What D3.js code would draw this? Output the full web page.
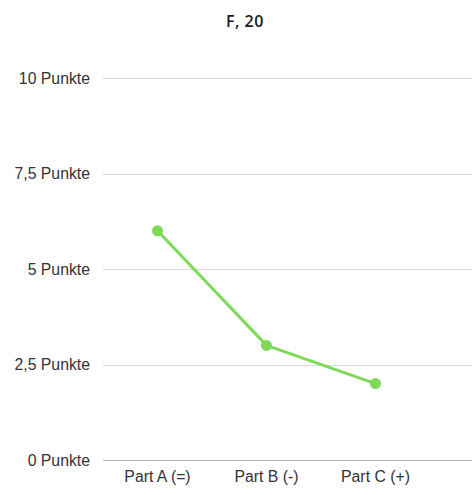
<!DOCTYPE html>
<html>
<head>
<meta charset="utf-8">
<script src="https://cdn.jsdelivr.net/npm/d3@7"></script>
<style>
  html, body { margin: 0; padding: 0; background: #fff; }
  svg { display: block; }
</style>
</head>
<body>
<svg id="chart" width="472" height="495"></svg>
<script>
const title = "F, 20";
const categories = ["Part A (=)", "Part B (-)", "Part C (+)"];
const values = [6, 3, 2];
const yTicks = [0, 2.5, 5, 7.5, 10];
const yTickLabels = ["0 Punkte", "2,5 Punkte", "5 Punkte", "7,5 Punkte", "10 Punkte"];

const svg = d3.select("#chart");
const W = 472;

const x = d3.scaleBand().domain(categories).range([103, 430]);
const y = d3.scaleLinear().domain([0, 10]).range([460, 78]);

// title
svg.append("text")
  .attr("x", 245).attr("y", 27)
  .attr("text-anchor", "middle")
  .attr("font-family", "'Open Sans', Lato, sans-serif")
  .attr("font-weight", 600)
  .attr("font-size", 16)
  .attr("letter-spacing", 0.5)
  .attr("fill", "#1a1a1a")
  .text(title);

// gridlines
svg.append("g").selectAll("line")
  .data(yTicks)
  .join("line")
  .attr("x1", 103).attr("x2", W)
  .attr("y1", d => Math.round(y(d)) + 0.5).attr("y2", d => Math.round(y(d)) + 0.5)
  .attr("stroke", d => d === 0 ? "#b3b3b3" : "#d9d9d9")
  .attr("stroke-width", 1);

// y labels
svg.append("g").selectAll("text")
  .data(yTicks)
  .join("text")
  .attr("x", 90)
  .attr("y", d => y(d))
  .attr("dy", "0.35em")
  .attr("text-anchor", "end")
  .attr("font-family", "'Liberation Sans', Arial, sans-serif")
  .attr("font-size", 15.8)
  .attr("fill", "#333")
  .text((d, i) => yTickLabels[i]);

// x labels
svg.append("g").selectAll("text")
  .data(categories)
  .join("text")
  .attr("x", d => x(d) + x.bandwidth() / 2)
  .attr("y", 482)
  .attr("text-anchor", "middle")
  .attr("font-family", "'Liberation Sans', Arial, sans-serif")
  .attr("font-size", 15.8)
  .attr("fill", "#333")
  .text(d => d);

const pts = categories.map((c, i) => [x(c) + x.bandwidth() / 2, y(values[i])]);

svg.append("path")
  .attr("d", d3.line()(pts))
  .attr("fill", "none")
  .attr("stroke", "#7ed957")
  .attr("stroke-width", 3)
  .attr("stroke-linejoin", "round");

svg.append("g").selectAll("circle")
  .data(pts)
  .join("circle")
  .attr("cx", d => d[0]).attr("cy", d => d[1])
  .attr("r", 5.5)
  .attr("fill", "#7ed957");
</script>
</body>
</html>
